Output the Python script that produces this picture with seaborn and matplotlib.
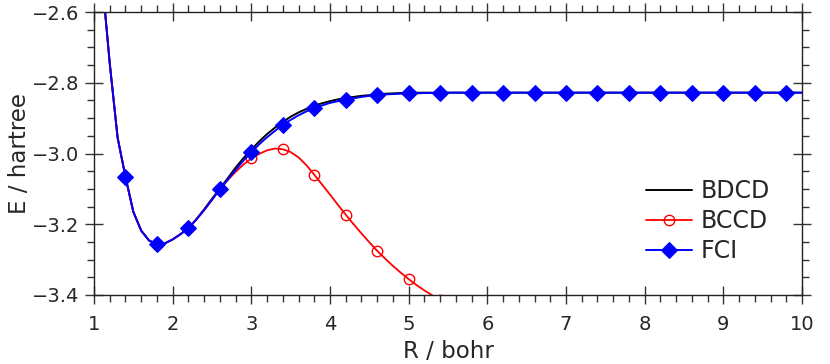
import numpy as np
import pandas as pd
import matplotlib
matplotlib.use("Agg")
import matplotlib.pyplot as plt
import seaborn as sns
from matplotlib.ticker import MultipleLocator

# ---- data ----
R_grid = np.round(np.arange(1.1, 10.0001, 0.1), 1)

fci = [
    -2.500, -2.745, -2.955, -3.066, -3.165, -3.218, -3.246, -3.257, -3.254, -3.243,   # 1.1-2.0
    -3.228, -3.211, -3.187, -3.160, -3.131, -3.101, -3.074, -3.046, -3.020, -2.997,   # 2.1-3.0
    -2.974, -2.954, -2.936, -2.919, -2.905, -2.892, -2.881, -2.872, -2.864, -2.857,   # 3.1-4.0
    -2.852, -2.848, -2.844, -2.840, -2.837, -2.835, -2.833, -2.832, -2.831, -2.830,   # 4.1-5.0
    -2.830, -2.829, -2.829, -2.829, -2.828, -2.828, -2.828, -2.828, -2.828, -2.828,   # 5.1-6.0
    -2.828, -2.828, -2.828, -2.828, -2.828, -2.828, -2.828, -2.828, -2.828, -2.828,   # 6.1-7.0
    -2.828, -2.828, -2.828, -2.828, -2.828, -2.828, -2.828, -2.828, -2.828, -2.828,   # 7.1-8.0
    -2.828, -2.828, -2.828, -2.828, -2.828, -2.828, -2.828, -2.828, -2.828, -2.828,   # 8.1-9.0
    -2.828, -2.828, -2.828, -2.828, -2.828, -2.828, -2.828, -2.828, -2.828, -2.828,   # 9.1-10.0
]

bdcd = [
    -2.500, -2.745, -2.955, -3.066, -3.165, -3.218, -3.246, -3.257, -3.254, -3.243,
    -3.228, -3.211, -3.186, -3.158, -3.128, -3.099, -3.070, -3.040, -3.013, -2.989,
    -2.966, -2.945, -2.927, -2.911, -2.896, -2.884, -2.874, -2.865, -2.858, -2.852,
    -2.847, -2.843, -2.840, -2.837, -2.835, -2.833, -2.831, -2.830, -2.829, -2.829,
    -2.828, -2.828, -2.828, -2.828, -2.828, -2.828, -2.828, -2.828, -2.828, -2.828,
    -2.828, -2.828, -2.828, -2.828, -2.828, -2.828, -2.828, -2.828, -2.828, -2.828,
    -2.828, -2.828, -2.828, -2.828, -2.828, -2.828, -2.828, -2.828, -2.828, -2.828,
    -2.828, -2.828, -2.828, -2.828, -2.828, -2.828, -2.828, -2.828, -2.828, -2.828,
    -2.828, -2.828, -2.828, -2.828, -2.828, -2.828, -2.828, -2.828, -2.828, -2.828,
]

bccd = [
    -2.500, -2.745, -2.955, -3.066, -3.165, -3.218, -3.246, -3.257, -3.254, -3.243,   # 1.1-2.0
    -3.228, -3.211, -3.187, -3.160, -3.131, -3.101, -3.075, -3.052, -3.031, -3.014,   # 2.1-3.0
    -3.001, -2.991, -2.986, -2.988, -2.996, -3.011, -3.033, -3.060, -3.088, -3.116,   # 3.1-4.0
    -3.145, -3.173, -3.200, -3.226, -3.251, -3.275, -3.297, -3.318, -3.337, -3.355,   # 4.1-5.0
    -3.372, -3.387, -3.401, -3.414,                                                   # 5.1-5.4
]

series_names = ["BDCD", "BCCD", "FCI"]
x_ticks = [1, 2, 3, 4, 5, 6, 7, 8, 9, 10]
y_ticks = [-3.4, -3.2, -3.0, -2.8, -2.6]

# ---- figure ----
sns.set_style("ticks")
plt.rcParams["font.family"] = ["DejaVu Sans"]

fig = plt.figure(figsize=(8.30, 3.64), dpi=100)
ax = fig.add_axes([94 / 830, 1 - 295 / 364, (802 - 94) / 830, (295 - 12) / 364])

df_b = pd.DataFrame({"R": R_grid, "E": bdcd})
df_c = pd.DataFrame({"R": R_grid[:len(bccd)], "E": bccd})
df_f = pd.DataFrame({"R": R_grid, "E": fci})

sns.lineplot(data=df_b, x="R", y="E", ax=ax, color="black", lw=1.4,
             label=series_names[0], sort=False)
sns.lineplot(data=df_c, x="R", y="E", ax=ax, color="red", lw=1.3,
             marker="o", markersize=7.5, markerfacecolor="none",
             markeredgecolor="red", markeredgewidth=1.0, markevery=(3, 4),
             label=series_names[1], sort=False)
sns.lineplot(data=df_f, x="R", y="E", ax=ax, color="blue", lw=1.4,
             marker="D", markersize=8, markerfacecolor="blue",
             markeredgecolor="blue", markevery=(3, 4),
             label=series_names[2], sort=False)

ax.set_xlim(1, 10)
ax.set_ylim(-3.4, -2.6)
ax.set_xticks(x_ticks)
ax.set_yticks(y_ticks)
ax.xaxis.set_minor_locator(MultipleLocator(0.2))
ax.yaxis.set_minor_locator(MultipleLocator(0.05))
ax.tick_params(which="major", direction="inout", length=13, width=1.0,
               color="#333333", labelsize=14, top=True, right=True)
ax.tick_params(axis="x", which="major", pad=8)
ax.tick_params(axis="y", which="major", pad=4)
ax.tick_params(which="minor", direction="out", length=5, width=1.0,
               color="#333333", top=True, right=True)
for s in ax.spines.values():
    s.set_color("#222222")
    s.set_linewidth(1.0)

ax.set_xlabel("R / bohr", fontsize=16.5, labelpad=4)
ax.set_ylabel("E / hartree", fontsize=16.5, labelpad=1)

ax.legend(loc="center left", bbox_to_anchor=((646 - 94) / 708, (295 - 221) / 283),
          frameon=False, fontsize=17, handlelength=1.95, handletextpad=0.38,
          labelspacing=0.25, borderpad=0, borderaxespad=0)

fig.savefig("out.png", dpi=100)
